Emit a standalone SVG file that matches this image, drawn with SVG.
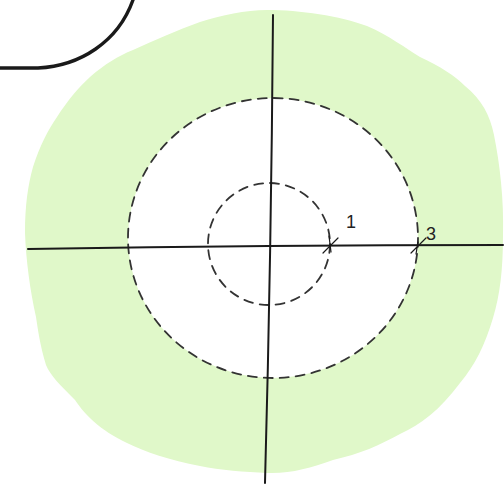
<svg xmlns="http://www.w3.org/2000/svg" width="504" height="486" viewBox="0 0 504 486">
<style>
.ink{fill:none;stroke:#1a1a1a;stroke-linecap:round;stroke-linejoin:round}
.dash{fill:none;stroke:#333;stroke-width:1.8;stroke-dasharray:9 7;stroke-linecap:round}
.lbl{font-family:"Liberation Sans",sans-serif;font-size:18px;fill:#222}
</style>
<rect width="504" height="486" fill="#ffffff"/>
<path d="M267,10 C300,10 340,16 367,26 C390,36 405,48 420,57 C440,66 455,76 465,86 C482,100 490,115 494,135 C500,165 504,200 503,235 C503,270 500,295 493,318 C485,345 475,365 460,383 C440,410 420,425 400,434 C380,445 360,454 333,460 C310,468 290,474 267,473 C245,472 220,470 200,466 C170,460 145,452 127,443 C100,430 85,415 75,400 C60,385 50,375 46,365 C40,345 38,330 36,317 C30,290 26,260 25,233 C25,205 28,185 33,167 C40,145 48,130 57,117 C68,100 78,88 90,77 C105,64 118,56 133,50 C155,40 178,30 200,22 C222,15 245,10 267,10 Z" fill="#e0f8c9"/>
<ellipse id="outer-circle" cx="273" cy="238" rx="145" ry="140" fill="#ffffff"/>
<ellipse cx="273" cy="238" rx="145" ry="140" class="dash"/>
<circle id="inner-circle" cx="269" cy="244" r="61" class="dash" stroke-width="1.6"/>
<path class="ink" stroke-width="2" d="M28,249 C150,247 300,245 503,245"/>
<path class="ink" stroke-width="2" d="M273,15 C272,150 270,300 265,483"/>
<path class="ink" stroke-width="3.4" d="M0,68 L38,68 C80,66 118,42 133,0"/>
<path class="ink" stroke-width="1.2" d="M323,253 L338,238 M329,236 L331,252"/>
<path class="ink" stroke-width="1.2" d="M411,253 L426,238 M418,242 L416,254"/>
<text class="lbl" x="346" y="228">1</text>
<text class="lbl" x="426" y="240">3</text>
</svg>
